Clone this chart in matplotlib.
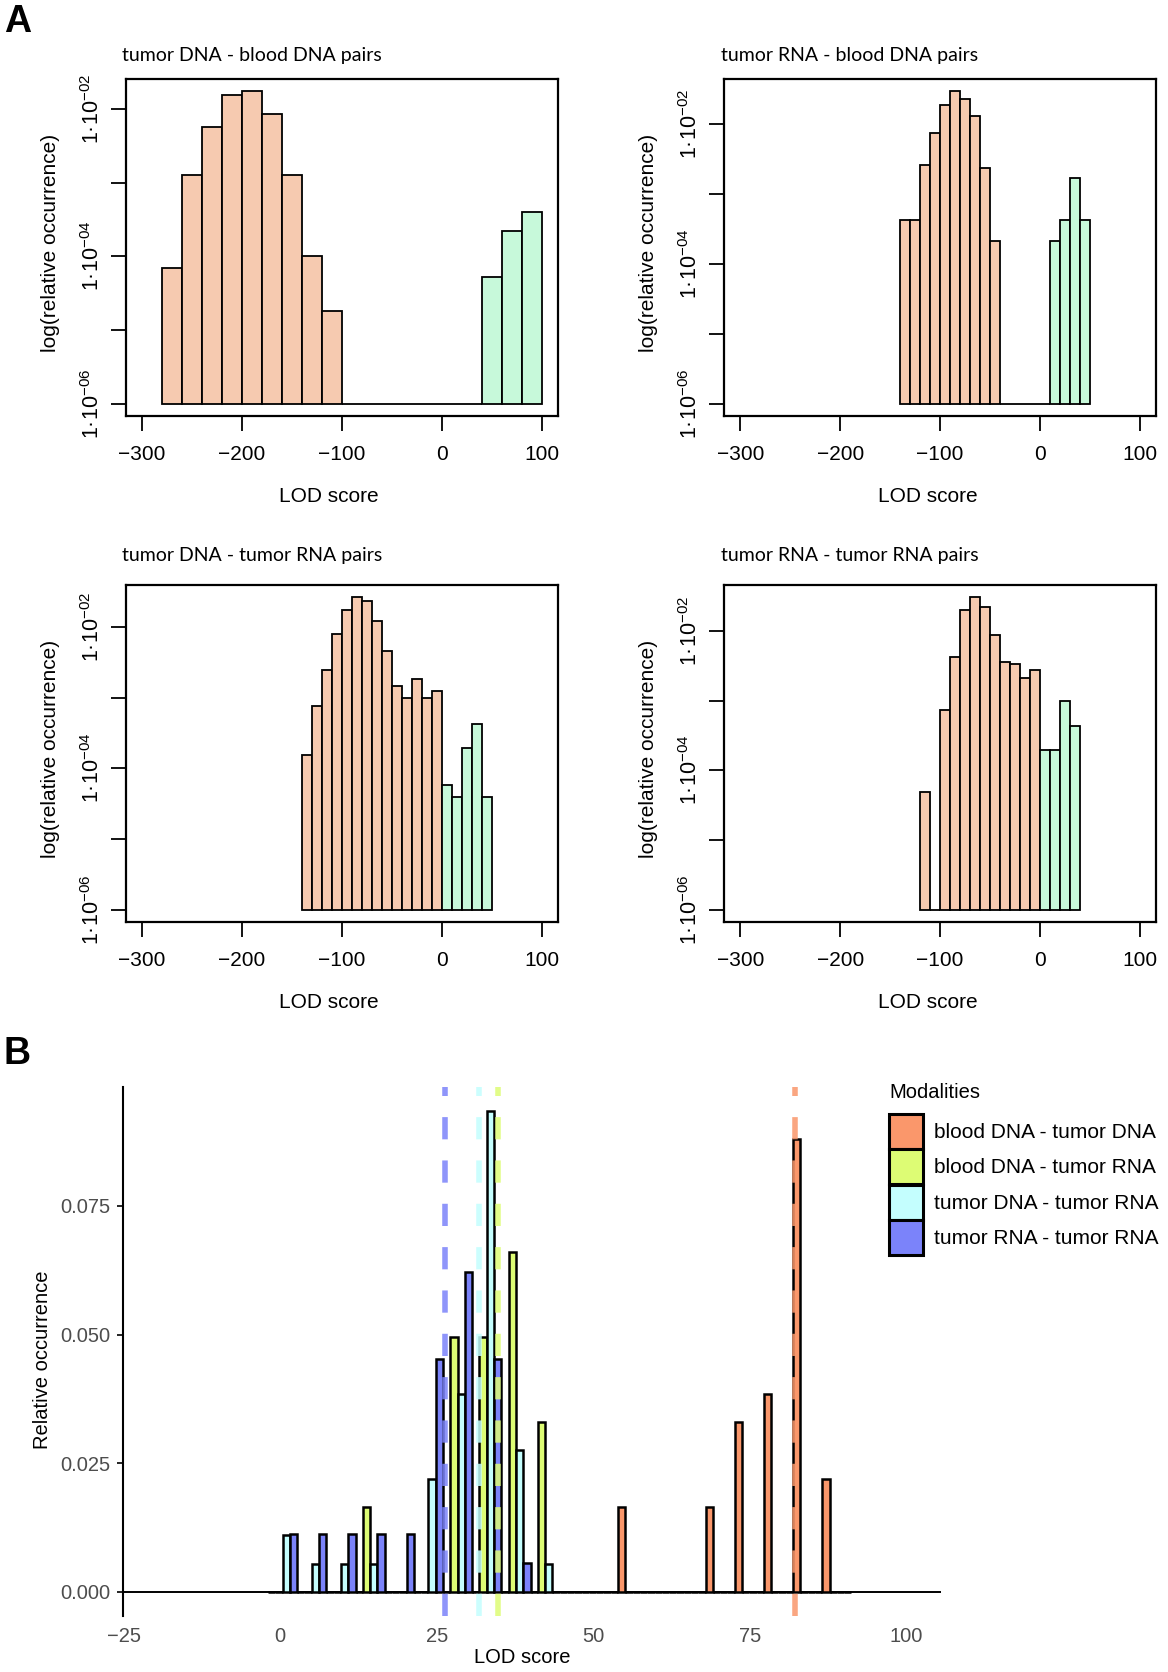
import numpy as np
import matplotlib
matplotlib.use('Agg')
import matplotlib.pyplot as plt
from matplotlib.patches import Patch
from matplotlib.ticker import NullLocator

plt.rcParams['font.family'] = ['Liberation Sans', 'DejaVu Sans']
plt.rcParams['mathtext.fontset'] = 'custom'
plt.rcParams['mathtext.rm'] = 'Liberation Sans'
plt.rcParams['mathtext.it'] = 'Liberation Sans:italic'
plt.rcParams['mathtext.bf'] = 'Liberation Sans:bold'

# ---------------- panel A: log histograms (relative occurrence per bin) ----------------
# tumor DNA - blood DNA pairs, bins of 20 starting at -280
p1_start, p1_width = -280, 20
p1_neg = [6.9e-5, 1.29e-3, 5.75e-3, 1.58e-2, 1.74e-2, 8.5e-3, 1.29e-3, 1.02e-4, 1.8e-5,
          0, 0, 0, 0, 0, 0, 0]
p1_pos = [5.25e-5, 2.24e-4, 3.98e-4]

# tumor RNA - blood DNA pairs, bins of 10 starting at -140
p2_start, p2_width = -140, 10
p2_neg = [4.27e-4, 4.27e-4, 2.57e-3, 7.59e-3, 1.9e-2, 2.95e-2, 2.29e-2, 1.32e-2, 2.34e-3, 2.14e-4,
          0, 0, 0, 0, 0]
p2_pos = [2.14e-4, 4.27e-4, 1.7e-3, 4.27e-4]

# tumor DNA - tumor RNA pairs
p3_start, p3_width = -140, 10
p3_neg = [1.55e-4, 7.59e-4, 2.45e-3, 7.94e-3, 1.74e-2, 2.63e-2, 2.34e-2, 1.23e-2, 4.57e-3,
          1.48e-3, 1.0e-3, 1.86e-3, 1.0e-3, 1.26e-3]
p3_pos = [5.9e-5, 3.9e-5, 1.95e-4, 4.27e-4, 3.9e-5]

# tumor RNA - tumor RNA pairs
p4_start, p4_width = -120, 10
p4_neg = [4.9e-5, 0, 7.24e-4, 4.27e-3, 2.0e-2, 3.02e-2, 2.24e-2, 8.71e-3, 3.55e-3, 3.39e-3,
          2.09e-3, 2.75e-3]
p4_pos = [1.95e-4, 1.95e-4, 1.0e-3, 4.27e-4]

p_titles = ['tumor DNA - blood DNA pairs', 'tumor RNA - blood DNA pairs',
            'tumor DNA - tumor RNA pairs', 'tumor RNA - tumor RNA pairs']

# ---------------- panel B: dodged density histogram ----------------
b_first_center, b_binwidth, b_nbins = 0.37, 4.66, 20
modalities = ['blood DNA - tumor DNA', 'blood DNA - tumor RNA',
              'tumor DNA - tumor RNA', 'tumor RNA - tumor RNA']
mod_colors = ['#FA976B', '#DDFC74', '#C4FEFE', '#7B83FA']
counts_bd_td = [0, 0, 0, 0, 0, 0, 0, 0, 0, 0, 0, 0, 3, 0, 0, 3, 6, 7, 16, 4]
counts_bd_tr = [0, 0, 0, 1, 0, 0, 3, 3, 4, 2, 0, 0, 0, 0, 0, 0, 0, 0, 0, 0]
counts_td_tr = [2, 1, 1, 1, 0, 4, 7, 17, 5, 1, 0, 0, 0, 0, 0, 0, 0, 0, 0, 0]
counts_tr_tr = [2, 2, 2, 2, 2, 8, 11, 8, 1, 0, 0, 0, 0, 0, 0, 0, 0, 0, 0, 0]
mod_medians = [82.15, 34.8, 31.7, 26.26]

peach = '#F6CAB0'
mint = '#C7F9DA'

W, H = 1168, 1672
fig = plt.figure(figsize=(W / 100, H / 100), dpi=100)


def axes_px(x0, y0, x1, y1):
    return fig.add_axes([x0 / W, 1 - y1 / H, (x1 - x0) / W, (y1 - y0) / H])


def draw_log_hist(ax, start, width, neg, pos, title, title_dy, ylab_x):
    floor = 1e-6
    left_neg = start + width * np.arange(len(neg))
    left_pos = start + width * len(neg) + width * np.arange(len(pos))
    h_neg = [v - floor if v > 0 else 0 for v in neg]
    h_pos = [v - floor if v > 0 else 0 for v in pos]
    ax.bar(left_neg, h_neg, width=width, bottom=floor, align='edge',
           color=peach, edgecolor='black', linewidth=1.3)
    ax.bar(left_pos, h_pos, width=width, bottom=floor, align='edge',
           color=mint, edgecolor='black', linewidth=1.3)
    ax.set_yscale('log')
    lo, hi = -6, np.log10(max(neg + pos))
    pad = 0.04 * (hi - lo)
    ax.set_ylim(10 ** (lo - pad), 10 ** (hi + pad))
    ax.set_xlim(-316, 116)
    ax.set_xticks([-300, -200, -100, 0, 100])
    ax.set_xticklabels(['\u2212300', '\u2212200', '\u2212100', '0', '100'])
    ax.set_yticks([1e-6, 1e-5, 1e-4, 1e-3, 1e-2])
    ax.set_yticklabels(['$\\mathregular{1\u00b710^{-06}}$', '',
                        '$\\mathregular{1\u00b710^{-04}}$', '',
                        '$\\mathregular{1\u00b710^{-02}}$'],
                       rotation=90, va='center', fontsize=15.5)
    ax.yaxis.set_minor_locator(NullLocator())
    ax.tick_params(axis='x', length=11, width=1.3, pad=10, labelsize=15)
    ax.tick_params(axis='y', length=11, width=1.3, pad=5)
    for s in ax.spines.values():
        s.set_linewidth(1.6)
    ax.set_ylabel('log(relative occurrence)', fontsize=15)
    ax.yaxis.set_label_coords(ylab_x, 0.515)
    ax.set_xlabel('LOD score', fontsize=15, va='center')
    ax.xaxis.set_label_coords(0.471, -0.240)
    ax.text(-0.008, 1 + title_dy, title, transform=ax.transAxes, va='center', ha='left',
            fontsize=14, family=['Lato', 'DejaVu Sans'])


ax1 = axes_px(125.8, 79, 557.5, 416)
ax2 = axes_px(724.4, 79, 1155.6, 416)
ax3 = axes_px(125.8, 585, 557.5, 922)
ax4 = axes_px(724.4, 585, 1155.6, 922)
draw_log_hist(ax1, p1_start, p1_width, p1_neg, p1_pos, p_titles[0], 0.069, -0.153)
draw_log_hist(ax2, p2_start, p2_width, p2_neg, p2_pos, p_titles[1], 0.069, -0.154)
draw_log_hist(ax3, p3_start, p3_width, p3_neg, p3_pos, p_titles[2], 0.089, -0.153)
draw_log_hist(ax4, p4_start, p4_width, p4_neg, p4_pos, p_titles[3], 0.089, -0.154)

fig.text(4 / W, 1 - 4 / H, 'A', fontsize=27, fontweight='bold', va='top', ha='left')
fig.text(4 / W, 1 - 1036 / H, 'B', fontsize=27, fontweight='bold', va='top', ha='left')

# ---------------- panel B ----------------
axb = axes_px(122.5, 1086.5, 940.7, 1615.9)
centers = b_first_center + b_binwidth * np.arange(b_nbins)
slot = b_binwidth / 4
all_counts = [counts_bd_td, counts_bd_tr, counts_td_tr, counts_tr_tr]
dens_max = 0
for g, (cnts, col) in enumerate(zip(all_counts, mod_colors)):
    cnts = np.array(cnts, dtype=float)
    dens = cnts / (cnts.sum() * b_binwidth)
    dens_max = max(dens_max, dens.max())
    axb.bar(centers - 2 * slot + g * slot, dens, width=slot, align='edge',
            color=col, edgecolor='black', linewidth=1.8, zorder=2)
axb.axhline(0, color='black', linewidth=1.4, zorder=1)
for med, col in zip(mod_medians, mod_colors):
    axb.axvline(med, color=col, linewidth=4, linestyle=(0, (4, 3.8)), alpha=0.85, zorder=3)

axb.set_xlim(-25.2, 105.5)
axb.set_ylim(-0.05 * dens_max, 1.05 * dens_max)
axb.set_xticks([-25, 0, 25, 50, 75, 100])
axb.set_xticklabels(['\u221225', '0', '25', '50', '75', '100'])
axb.set_yticks([0, 0.025, 0.05, 0.075])
axb.set_yticklabels(['0.000', '0.025', '0.050', '0.075'])
axb.tick_params(axis='x', length=0, pad=8, labelsize=14.5, labelcolor='#4D4D4D')
axb.tick_params(axis='y', length=4, width=1.2, pad=5, labelsize=14.5, labelcolor='#4D4D4D')
for side in ['top', 'right', 'bottom']:
    axb.spines[side].set_visible(False)
axb.spines['left'].set_linewidth(1.5)
axb.set_ylabel('Relative occurrence', fontsize=14.5)
axb.yaxis.set_label_coords(-0.086, 0.483)
axb.set_xlabel('LOD score', fontsize=14.5, va='center')
axb.xaxis.set_label_coords(0.488, -0.0795)

fig.text(889 / W, 1 - 1093 / H, 'Modalities', fontsize=14.5, va='center', ha='left')
handles = [Patch(facecolor=c, edgecolor='black', linewidth=2.2) for c in mod_colors]
leg = fig.legend(handles, modalities, loc='upper left',
                 bbox_to_anchor=(889 / W, 1 - 1114 / H), frameon=False,
                 fontsize=15, handlelength=1.62, handleheight=2.2, labelspacing=0.02,
                 handletextpad=0.55, borderpad=0, borderaxespad=0)

fig.savefig('out.png', dpi=100)
